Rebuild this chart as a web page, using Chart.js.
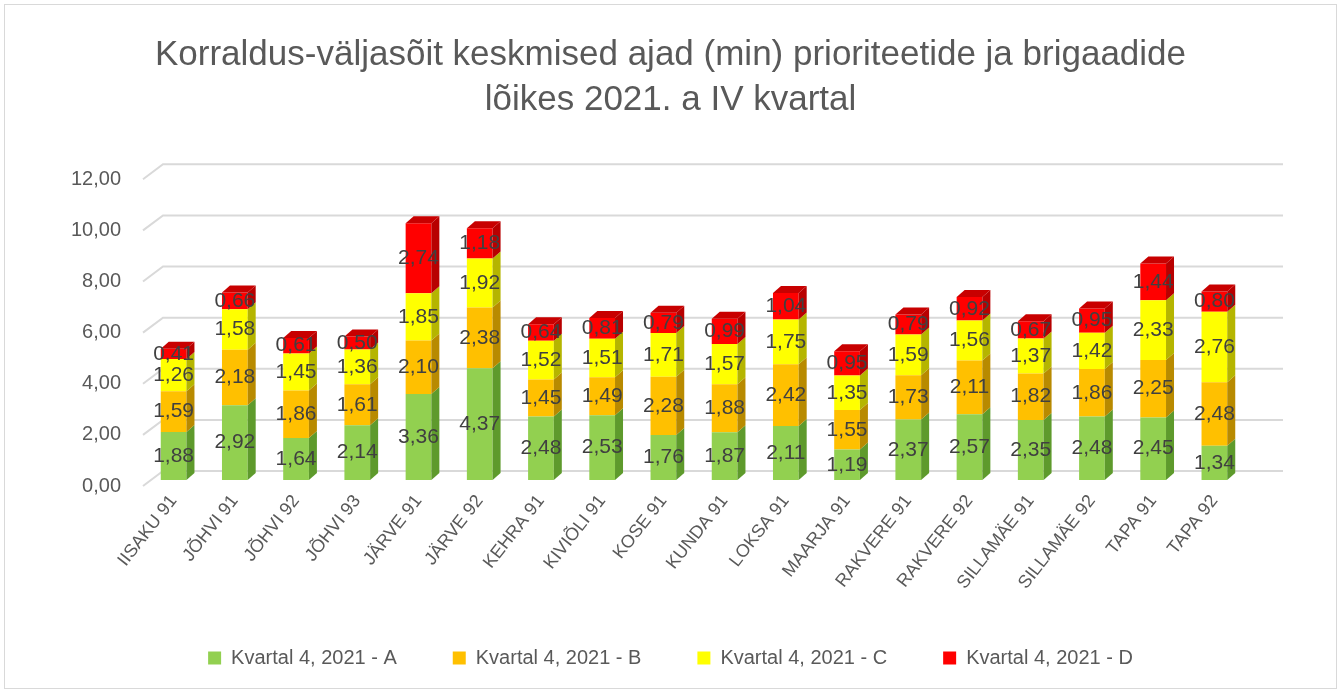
<!DOCTYPE html>
<html>
<head>
<meta charset="utf-8">
<script src="https://cdn.jsdelivr.net/npm/chart.js@4"></script>
<style>
  html, body { margin: 0; padding: 0; background: #fff; }
  #wrap { width: 1341px; height: 693px; position: relative; }
</style>
</head>
<body>
<div id="wrap"><canvas id="chart"></canvas></div>
<script>
var brigades = ["IISAKU 91", "JÕHVI 91", "JÕHVI 92", "JÕHVI 93", "JÄRVE 91", "JÄRVE 92", "KEHRA 91", "KIVIÕLI 91", "KOSE 91",
    "KUNDA 91", "LOKSA 91", "MAARJA 91", "RAKVERE 91", "RAKVERE 92", "SILLAMÄE 91", "SILLAMÄE 92", "TAPA 91", "TAPA 92"];
var prioA = [1.88, 2.92, 1.64, 2.14, 3.36, 4.37, 2.48, 2.53, 1.76, 1.87, 2.11, 1.19, 2.37, 2.57, 2.35, 2.48, 2.45, 1.34];
var prioB = [1.59, 2.18, 1.86, 1.61, 2.10, 2.38, 1.45, 1.49, 2.28, 1.88, 2.42, 1.55, 1.73, 2.11, 1.82, 1.86, 2.25, 2.48];
var prioC = [1.26, 1.58, 1.45, 1.36, 1.85, 1.92, 1.52, 1.51, 1.71, 1.57, 1.75, 1.35, 1.59, 1.56, 1.37, 1.42, 2.33, 2.76];
var prioD = [0.41, 0.66, 0.61, 0.50, 2.74, 1.18, 0.64, 0.81, 0.79, 0.99, 1.04, 0.95, 0.79, 0.92, 0.67, 0.95, 1.44, 0.80];
var seriesNames = ["Kvartal 4, 2021 - A", "Kvartal 4, 2021 - B", "Kvartal 4, 2021 - C", "Kvartal 4, 2021 - D"];

var fills = ["#92d050", "#ffc000", "#ffff00", "#ff0000"];
var sides = ["#5e9a2c", "#b88a00", "#b5b500", "#b80000"];
var tops  = ["#7bb540", "#d9a300", "#d9d900", "#c80000"];
var FONT = "'Liberation Sans', Arial, sans-serif";
var DX = 8, DY = 7;

function fmt(v) { return v.toFixed(2).replace('.', ','); }

// back wall grid lines with the little diagonal floor piece
var backGrid = {
    id: 'backGrid',
    beforeDatasetsDraw: function(chart) {
        var ctx = chart.ctx, y = chart.scales.y, a = chart.chartArea;
        ctx.save();
        ctx.strokeStyle = '#d9d9d9';
        ctx.lineWidth = 2;
        y.ticks.forEach(function(t) {
            var py = y.getPixelForValue(t.value);
            ctx.beginPath();
            ctx.moveTo(a.left, py + 6);
            ctx.lineTo(a.left + 20, py - 9);
            ctx.lineTo(a.right + 38, py - 9);
            ctx.stroke();
        });
        ctx.restore();
    }
};

// fake 3D sides/tops + value labels
var bars3d = {
    id: 'bars3d',
    afterDatasetsDraw: function(chart) {
        var ctx = chart.ctx;
        var last = chart.data.datasets.length - 1;
        ctx.save();
        chart.data.datasets.forEach(function(ds, di) {
            chart.getDatasetMeta(di).data.forEach(function(bar) {
                var p = bar.getProps(['x', 'y', 'base', 'width'], true);
                var r = p.x + p.width / 2, l = p.x - p.width / 2;
                ctx.fillStyle = sides[di];
                ctx.beginPath();
                ctx.moveTo(r, p.y);
                ctx.lineTo(r + DX, p.y - DY);
                ctx.lineTo(r + DX, p.base - DY);
                ctx.lineTo(r, p.base);
                ctx.closePath();
                ctx.fill();
                if (di === last) {
                    ctx.fillStyle = tops[di];
                    ctx.beginPath();
                    ctx.moveTo(l, p.y);
                    ctx.lineTo(l + DX, p.y - DY);
                    ctx.lineTo(r + DX, p.y - DY);
                    ctx.lineTo(r, p.y);
                    ctx.closePath();
                    ctx.fill();
                }
            });
        });
        ctx.fillStyle = '#404040';
        ctx.font = '21px ' + FONT;
        ctx.textAlign = 'center';
        ctx.textBaseline = 'middle';
        chart.data.datasets.forEach(function(ds, di) {
            chart.getDatasetMeta(di).data.forEach(function(bar, i) {
                var p = bar.getProps(['x', 'y', 'base'], true);
                ctx.fillText(fmt(ds.data[i]), p.x, (p.y + p.base) / 2);
            });
        });
        ctx.restore();
    }
};

var frame = {
    id: 'frame',
    afterDraw: function(chart) {
        var ctx = chart.ctx;
        ctx.save();
        ctx.strokeStyle = '#d9d9d9';
        ctx.lineWidth = 1;
        ctx.strokeRect(4.5, 4.5, 1332, 684);
        ctx.restore();
    }
};

var ctx = document.getElementById('chart').getContext('2d');
var chart = new Chart(ctx, {
    type: 'bar',
    data: {
        labels: brigades,
        datasets: [prioA, prioB, prioC, prioD].map(function(d, i) {
            return {
                label: seriesNames[i],
                data: d,
                backgroundColor: fills[i],
                borderWidth: 0,
                categoryPercentage: 1,
                barPercentage: 0.42
            };
        })
    },
    options: {
        responsive: true,
        maintainAspectRatio: false,
        animation: false,
        layout: { padding: { left: 0, right: 0, top: 0, bottom: 15 } },
        plugins: {
            title: {
                display: true,
                text: ['Korraldus-väljasõit keskmised ajad (min) prioriteetide ja brigaadide', 'lõikes 2021. a IV kvartal'],
                color: '#595959',
                font: { family: FONT, size: 35, weight: 'normal', lineHeight: 1.29 },
                padding: { top: 33, bottom: 50 }
            },
            legend: {
                position: 'bottom',
                labels: {
                    color: '#595959',
                    font: { family: FONT, size: 20 },
                    boxWidth: 13,
                    boxHeight: 13,
                    padding: 56
                }
            },
            tooltip: { enabled: false }
        },
        scales: {
            x: {
                stacked: true,
                grid: { display: false },
                border: { display: false },
                ticks: {
                    color: '#595959',
                    font: { family: FONT, size: 18 },
                    minRotation: 52,
                    maxRotation: 52,
                    autoSkip: false
                },
                afterFit: function(s) { s.height = 112; }
            },
            y: {
                stacked: true,
                min: 0,
                max: 12,
                grid: { display: false },
                border: { display: false },
                ticks: {
                    stepSize: 2,
                    color: '#595959',
                    font: { family: FONT, size: 20 },
                    padding: 14,
                    labelOffset: 6,
                    callback: function(v) { return fmt(v); }
                },
                afterFit: function(s) { s.width = 143; }
            },
            // empty right-hand spacer so title/legend stay centred on the whole canvas
            yRight: {
                position: 'right',
                grid: { display: false },
                border: { display: false },
                ticks: { display: false },
                afterFit: function(s) { s.width = 96; }
            }
        }
    },
    plugins: [backGrid, bars3d, frame]
});
</script>
</body>
</html>
